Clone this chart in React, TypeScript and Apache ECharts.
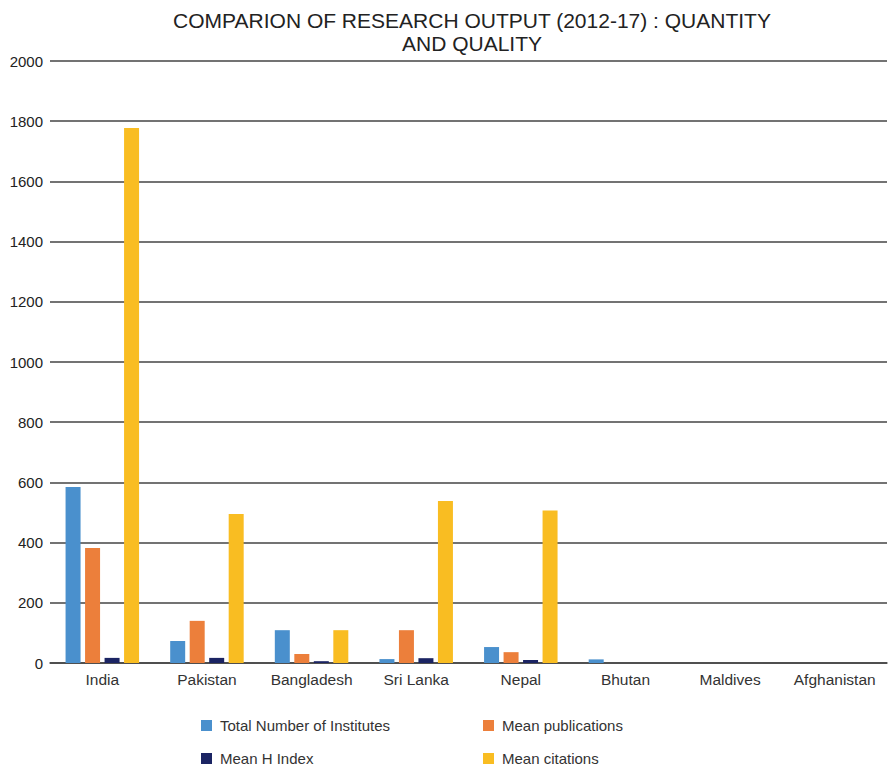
import React, { useEffect, useRef } from "react";
import * as echarts from "echarts";

const categories = ["India", "Pakistan", "Bangladesh", "Sri Lanka", "Nepal", "Bhutan", "Maldives", "Afghanistan"];
const totalInstitutes = [585, 73, 109, 13, 53, 12, 0, 0];
const meanPublications = [382, 140, 30, 109, 36, 0, 0, 0];
const meanHIndex = [17, 17, 6, 16, 10, 0, 0, 0];
const meanCitations = [1777, 495, 109, 538, 507, 0, 0, 0];
const seriesNames = ["Total Number of Institutes", "Mean publications", "Mean H Index", "Mean citations"];
const colors = ["#4A90CD", "#EC7F3B", "#1B2463", "#F9BD22"];

const FONT = "'Liberation Sans', Arial, Helvetica, sans-serif";

const legendPos = [
  { left: 201, top: 718 },
  { left: 483, top: 718 },
  { left: 201, top: 751 },
  { left: 483, top: 751 },
];

export default function App() {
  const ref = useRef<HTMLDivElement>(null);
  useEffect(() => {
    if (!ref.current) return;
    const chart = echarts.init(ref.current, undefined, { renderer: "svg" });
    const values = [totalInstitutes, meanPublications, meanHIndex, meanCitations];
    chart.setOption({
      animation: false,
      textStyle: { fontFamily: FONT },
      title: {
        text: "COMPARION OF RESEARCH OUTPUT (2012-17) : QUANTITY\nAND QUALITY",
        left: 467,
        textAlign: "center",
        top: 4,
        textStyle: { fontFamily: FONT, fontSize: 21, fontWeight: "normal", color: "#222", lineHeight: 23 },
      },
      legend: seriesNames.map((name, i) => ({
        data: [name],
        left: legendPos[i].left,
        top: legendPos[i].top,
        padding: 0,
        itemWidth: 11,
        itemHeight: 11,
        icon: "rect",
        textStyle: { fontFamily: FONT, fontSize: 15, color: "#333", padding: [0, 0, 0, 3] },
      })),
      grid: { left: 50, right: 2, top: 61, bottom: 105, containLabel: false },
      xAxis: {
        type: "category",
        data: categories,
        axisLine: { lineStyle: { color: "#444", width: 1.5 } },
        axisTick: { show: false },
        axisLabel: { interval: 0, fontFamily: FONT, fontSize: 15.5, color: "#333", margin: 8 },
      },
      yAxis: {
        type: "value",
        min: 0,
        max: 2000,
        interval: 200,
        axisLine: { show: false },
        axisTick: { show: false },
        axisLabel: { formatter: (v: number) => String(v), fontFamily: FONT, fontSize: 15, color: "#222", margin: 7 },
        splitLine: { lineStyle: { color: "#444", width: 1.5 } },
      },
      series: seriesNames.map((name, i) => ({
        name,
        type: "bar",
        data: values[i],
        barWidth: 15,
        barGap: "30%",
        itemStyle: { color: colors[i] },
      })),
    });
    return () => chart.dispose();
  }, []);
  return <div ref={ref} style={{ width: 889, height: 768, position: "absolute", left: 0, top: 0 }} />;
}
